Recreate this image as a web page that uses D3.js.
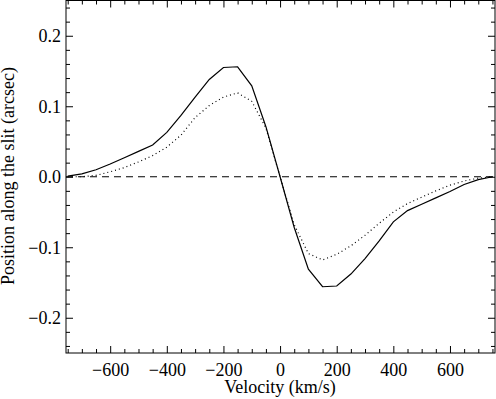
<!DOCTYPE html>
<html>
<head>
	<meta charset="utf-8">
	<style>
		body { margin: 0; background: #fff; }
		text { font-family: 'Liberation Serif', 'Times New Roman', serif; }
	</style>
</head>
<body>
	<div id="graph"></div>

	<script src="https://cdnjs.cloudflare.com/ajax/libs/d3/7.8.5/d3.min.js"></script>

	<script>
		const velocity = [-750, -700, -650, -600, -550, -500, -450, -400, -350, -300, -250, -200, -150, -100, -50,
			0, 50, 100, 150, 200, 250, 300, 350, 400, 450, 500, 550, 600, 650, 700, 750];

		// solid curve
		const posSolid = [0.001, 0.004, 0.010, 0.018, 0.027, 0.036, 0.045, 0.063, 0.087, 0.113, 0.138, 0.155, 0.156, 0.129, 0.071,
			0.0, -0.072, -0.131, -0.156, -0.155, -0.138, -0.116, -0.091, -0.064, -0.048, -0.039, -0.030, -0.021, -0.011, -0.004, 0.0];

		// dotted curve
		const posDotted = [0.0, 0.0, 0.002, 0.007, 0.013, 0.021, 0.030, 0.042, 0.059, 0.084, 0.101, 0.113, 0.119, 0.107, 0.069,
			0.0, -0.068, -0.109, -0.118, -0.110, -0.098, -0.083, -0.066, -0.050, -0.038, -0.029, -0.020, -0.012, -0.006, -0.002, 0.0];

		const xTicks = [-600, -400, -200, 0, 200, 400, 600];
		const xMinor = [-750, -700, -650, -550, -500, -450, -350, -300, -250, -150, -100, -50,
			50, 100, 150, 250, 300, 350, 450, 500, 550, 650, 700, 750];
		const yTicks = [-0.2, -0.1, 0.0, 0.1, 0.2];
		const yMinor = [-0.24, -0.22, -0.18, -0.16, -0.14, -0.12, -0.08, -0.06, -0.04, -0.02,
			0.02, 0.04, 0.06, 0.08, 0.12, 0.14, 0.16, 0.18, 0.22, 0.24];

		const W = 496, H = 399;
		const mLeft = 66, mRight = 495, mTop = 0.5, mBottom = 353;

		const svg = d3.select('#graph').append('svg')
			.attr('width', W)
			.attr('height', H);

		const x = d3.scaleLinear().domain([-756, 759]).range([mLeft, mRight]);
		const y = d3.scaleLinear().domain([-0.25, 0.25]).range([mBottom, mTop]);

		const fmtX = d3.format('d');
		const fmtY = d3.format('.1f');

		const tickStyle = g => {
			g.select('.domain').remove();
			g.selectAll('line').attr('stroke', '#000').attr('stroke-width', 1);
			g.selectAll('text').attr('font-size', 18).attr('fill', '#000')
				.attr('font-family', "'Liberation Serif', serif");
		};

		// bottom
		svg.append('g').attr('transform', `translate(0, ${mBottom})`)
			.call(d3.axisBottom(x).tickValues(xTicks).tickSize(-7).tickPadding(10).tickFormat(fmtX))
			.call(tickStyle);
		svg.append('g').attr('transform', `translate(0, ${mBottom})`)
			.call(d3.axisBottom(x).tickValues(xMinor).tickSize(-4).tickFormat(''))
			.call(tickStyle);
		// top
		svg.append('g').attr('transform', `translate(0, ${mTop})`)
			.call(d3.axisTop(x).tickValues(xTicks).tickSize(-7).tickFormat(''))
			.call(tickStyle);
		svg.append('g').attr('transform', `translate(0, ${mTop})`)
			.call(d3.axisTop(x).tickValues(xMinor).tickSize(-4).tickFormat(''))
			.call(tickStyle);
		// left
		svg.append('g').attr('transform', `translate(${mLeft}, 0)`)
			.call(d3.axisLeft(y).tickValues(yTicks).tickSize(-7).tickPadding(5).tickFormat(fmtY))
			.call(tickStyle);
		svg.append('g').attr('transform', `translate(${mLeft}, 0)`)
			.call(d3.axisLeft(y).tickValues(yMinor).tickSize(-4).tickFormat(''))
			.call(tickStyle);
		// right
		svg.append('g').attr('transform', `translate(${mRight}, 0)`)
			.call(d3.axisRight(y).tickValues(yTicks).tickSize(-7).tickFormat(''))
			.call(tickStyle);
		svg.append('g').attr('transform', `translate(${mRight}, 0)`)
			.call(d3.axisRight(y).tickValues(yMinor).tickSize(-4).tickFormat(''))
			.call(tickStyle);

		svg.append('rect')
			.attr('x', mLeft).attr('y', mTop)
			.attr('width', mRight - mLeft).attr('height', mBottom - mTop)
			.attr('fill', 'none').attr('stroke', '#000').attr('stroke-width', 1);

		// zero line
		svg.append('line')
			.attr('x1', x.range()[0]).attr('x2', x.range()[1])
			.attr('y1', y(0)).attr('y2', y(0))
			.attr('stroke', '#000').attr('stroke-width', 1)
			.attr('stroke-dasharray', '7,5');

		const line = d3.line()
			.x((d, i) => x(velocity[i]))
			.y(d => y(d));

		svg.append('path')
			.attr('d', line(posSolid))
			.attr('fill', 'none').attr('stroke', '#000').attr('stroke-width', 1.2);

		svg.append('path')
			.attr('d', line(posDotted))
			.attr('fill', 'none').attr('stroke', '#000').attr('stroke-width', 1.2)
			.attr('stroke-dasharray', '1,3');

		svg.append('text')
			.attr('x', 280).attr('y', 393)
			.attr('text-anchor', 'middle').attr('font-size', 18)
			.text('Velocity (km/s)');

		svg.append('text')
			.attr('transform', 'translate(14, 176) rotate(-90)')
			.attr('text-anchor', 'middle').attr('font-size', 18)
			.text('Position along the slit (arcsec)');
	</script>
</body>
</html>
